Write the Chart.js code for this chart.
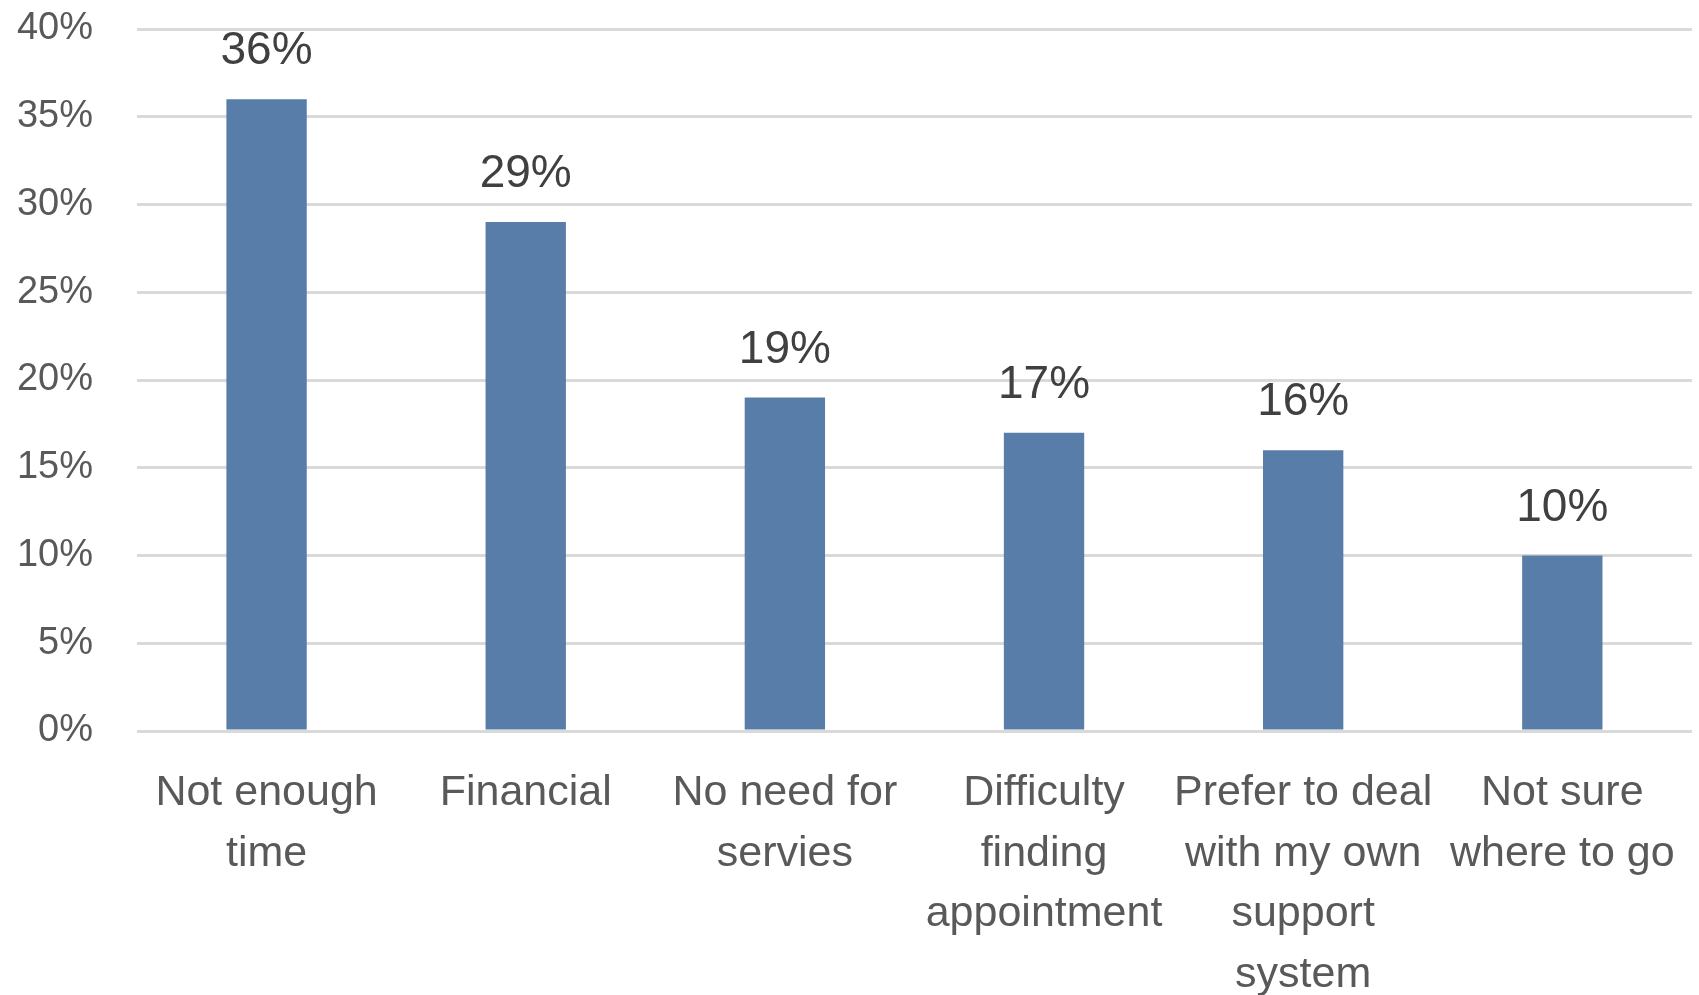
<!DOCTYPE html>
<html>
<head>
<meta charset="utf-8">
<title>Reasons for not using services</title>
<script src="https://cdn.jsdelivr.net/npm/chart.js@4.4.1/dist/chart.umd.min.js"></script>
<style>
  html, body { margin: 0; padding: 0; background: #fff; }
  .chart_wrap { width: 1699px; height: 995px; }
</style>
</head>
<body>
<div class="chart_wrap"><canvas id="reasonsChart"></canvas></div>
<script>
// survey answers, wrapped the way they sit under each bar
const reasonLabels = [
  ["Not enough", "time"],
  ["Financial"],
  ["No need for", "servies"],
  ["Difficulty", "finding", "appointment"],
  ["Prefer to deal", "with my own", "support", "system"],
  ["Not sure", "where to go"],
];
const reasonShares = [36, 29, 19, 17, 16, 10];
const yTicks = [0, 5, 10, 15, 20, 25, 30, 35, 40];

const fontFamily = "'Liberation Sans', Arial, sans-serif";

// writes the percentage over each bar
const barValueLabels = {
  id: "barValueLabels",
  afterDatasetsDraw(chart) {
    const ctx = chart.ctx;
    const meta = chart.getDatasetMeta(0);
    ctx.save();
    ctx.font = `46px ${fontFamily}`;
    ctx.fillStyle = "#404040";
    ctx.textAlign = "center";
    ctx.textBaseline = "alphabetic";
    meta.data.forEach((bar, i) => {
      ctx.fillText(`${reasonShares[i]}%`, bar.x, bar.y - 35);
    });
    ctx.restore();
  },
};

const canvasChart = document.querySelector("#reasonsChart");

const myChart = new Chart(canvasChart, {
  type: "bar",
  data: {
    labels: reasonLabels,
    datasets: [
      {
        data: reasonShares,
        backgroundColor: "#587da8",
        barPercentage: 0.31,
        categoryPercentage: 1,
      },
    ],
  },
  options: {
    responsive: true,
    maintainAspectRatio: false,
    animation: false,
    layout: {
      padding: { top: 29, right: 4, left: 0, bottom: 0 },
    },
    plugins: {
      legend: { display: false },
      tooltip: { enabled: false },
    },
    scales: {
      x: {
        grid: { display: false },
        border: { display: false },
        ticks: {
          color: "#595959",
          font: { family: fontFamily, size: 43, lineHeight: 1.41 },
          padding: 24,
          maxRotation: 0,
          autoSkip: false,
        },
        afterFit(scale) {
          scale.height = 264;
        },
      },
      y: {
        min: 0,
        max: 40,
        afterBuildTicks(scale) {
          scale.ticks = yTicks.map((v) => ({ value: v }));
        },
        grid: {
          color: "#d9d9d9",
          lineWidth: 3,
          drawTicks: false,
        },
        border: { display: false },
        ticks: {
          color: "#595959",
          font: { family: fontFamily, size: 38 },
          padding: 44,
          callback: (v) => v + "%",
        },
        afterFit(scale) {
          // tick padding would otherwise push the plot top down
          scale.width = 137;
          scale.paddingTop = 0;
          scale.paddingBottom = 0;
        },
      },
    },
  },
  plugins: [barValueLabels],
});
</script>
</body>
</html>
